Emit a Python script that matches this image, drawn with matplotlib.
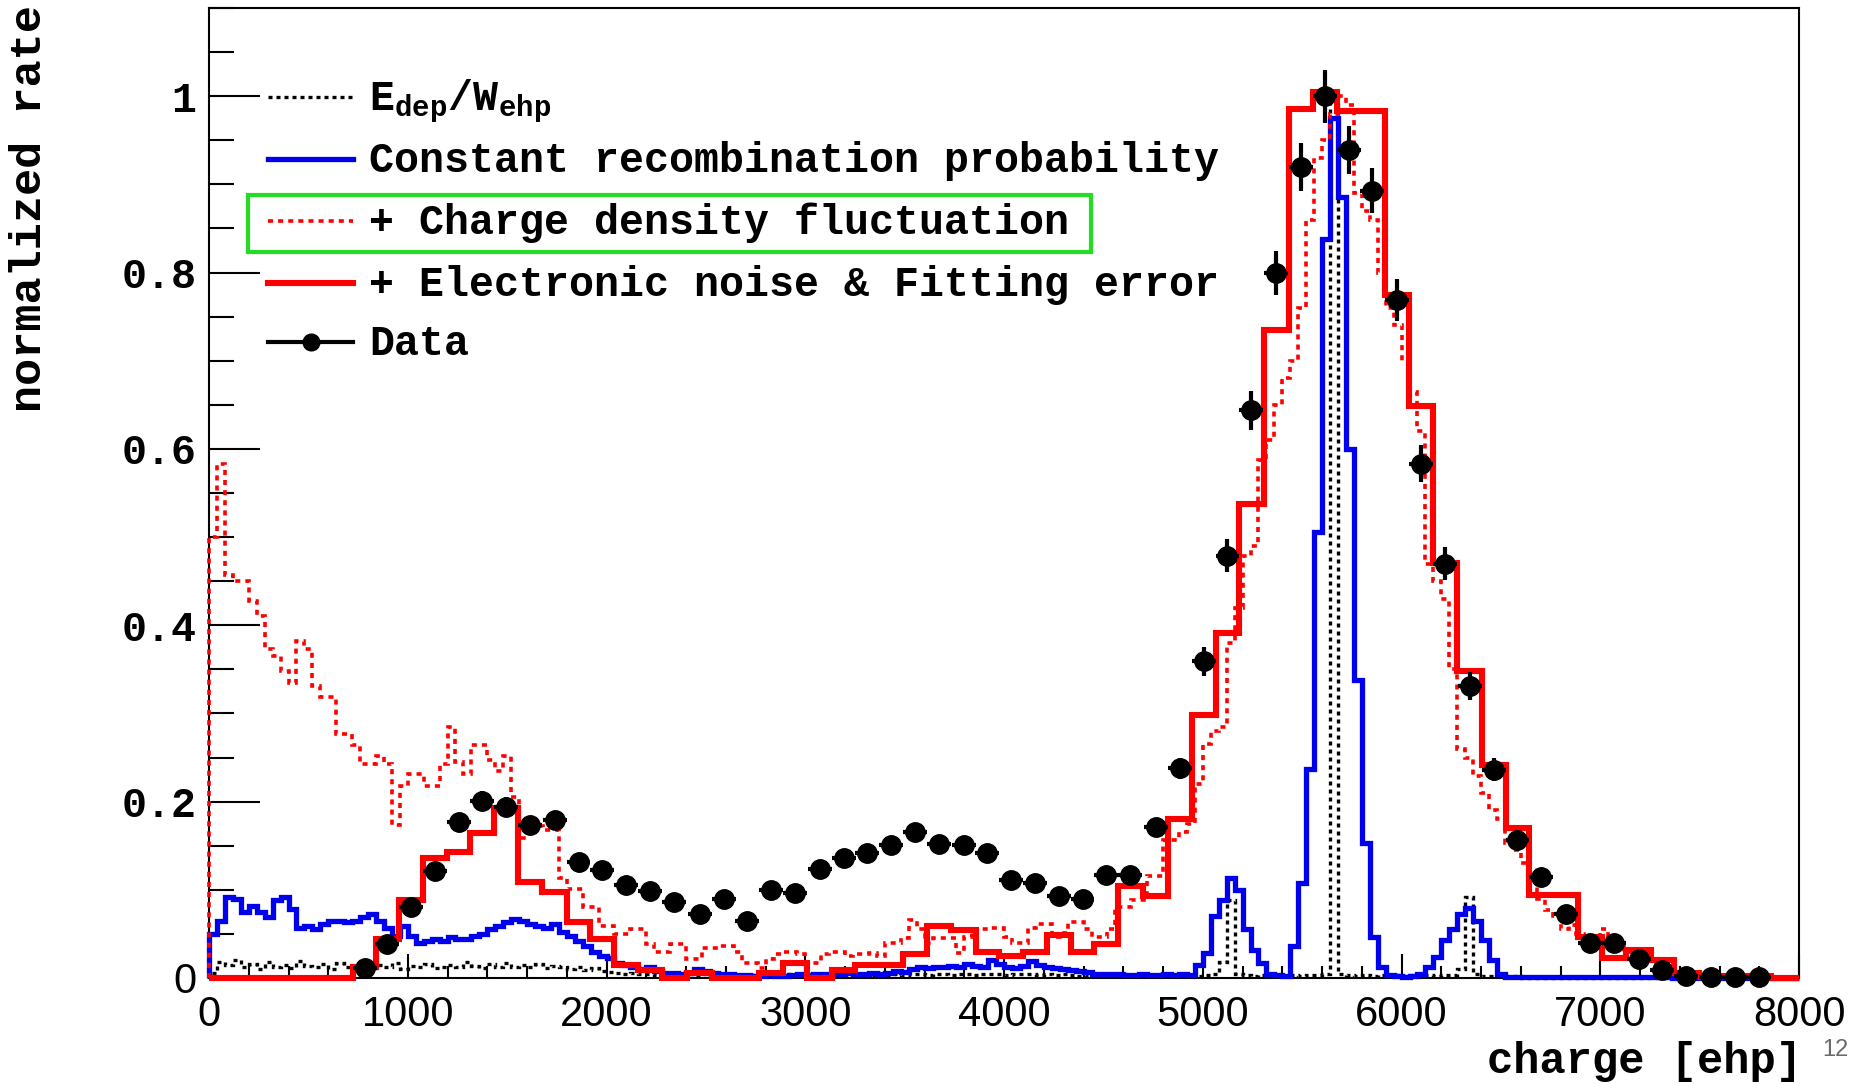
import matplotlib
matplotlib.use("Agg")
import matplotlib.pyplot as plt
import numpy as np
from matplotlib.patches import Rectangle

MONO = 'Liberation Mono'
SANS = 'Liberation Sans'

plt.rcParams['mathtext.fontset'] = 'custom'
plt.rcParams['mathtext.rm'] = 'Liberation Mono:bold'
plt.rcParams['mathtext.it'] = 'Liberation Mono:bold'
plt.rcParams['mathtext.bf'] = 'Liberation Mono:bold'

# measured data points (bin centres in ehp)
data_x = [783, 897, 1016, 1136, 1256, 1375, 1495, 1614, 1740, 1859,
          1979, 2099, 2218, 2338, 2469, 2589, 2708, 2828, 2948, 3073,
          3193, 3312, 3432, 3552, 3671, 3797, 3916, 4036, 4155, 4275,
          4395, 4514, 4634, 4765, 4885, 5004, 5124, 5244, 5369, 5495,
          5614, 5734, 5853, 5979, 6099, 6218, 6344, 6463, 6583, 6702,
          6828, 6948, 7067, 7193, 7312, 7432, 7557, 7677, 7797]
data_y = [0.011, 0.038, 0.081, 0.121, 0.177, 0.201, 0.194, 0.173, 0.179, 0.132,
          0.123, 0.105, 0.099, 0.086, 0.072, 0.090, 0.065, 0.100, 0.096, 0.124,
          0.136, 0.142, 0.151, 0.165, 0.152, 0.151, 0.142, 0.111, 0.108, 0.093,
          0.090, 0.117, 0.117, 0.171, 0.238, 0.359, 0.479, 0.644, 0.800, 0.920,
          1.000, 0.939, 0.893, 0.769, 0.583, 0.470, 0.331, 0.236, 0.157, 0.114,
          0.073, 0.040, 0.040, 0.022, 0.009, 0.002, 0.001, 0.001, 0.001]
data_yerr = [0.005, 0.006, 0.008, 0.009, 0.010, 0.011, 0.011, 0.010, 0.010, 0.009,
             0.009, 0.008, 0.008, 0.008, 0.007, 0.008, 0.007, 0.008, 0.008, 0.009,
             0.009, 0.009, 0.010, 0.010, 0.010, 0.010, 0.009, 0.008, 0.008, 0.008,
             0.008, 0.009, 0.009, 0.010, 0.012, 0.016, 0.019, 0.022, 0.025, 0.027,
             0.030, 0.027, 0.026, 0.024, 0.021, 0.019, 0.016, 0.013, 0.011, 0.009,
             0.007, 0.005, 0.005, 0.004, 0.003, 0.002, 0.001, 0.001, 0.001]
data_xerr = 60

# "+ Electronic noise & Fitting error", same bins as the data
noise_fit = [0.013, 0.044, 0.088, 0.136, 0.143, 0.164, 0.193, 0.109, 0.098, 0.064,
             0.044, 0.015, 0.009, 0.000, 0.006, 0.000, 0.000, 0.006, 0.017, 0.000,
             0.009, 0.015, 0.015, 0.027, 0.059, 0.054, 0.030, 0.025, 0.030, 0.049,
             0.030, 0.038, 0.104, 0.093, 0.180, 0.298, 0.391, 0.538, 0.735, 0.986,
             1.005, 0.983, 0.983, 0.775, 0.649, 0.471, 0.348, 0.242, 0.170, 0.094,
             0.094, 0.047, 0.023, 0.032, 0.020, 0.006, 0.002, 0.002, 0.002]

# fine histograms, 40 ehp bins from 0 to 8000
fine_width = 40
edep = [0.006, 0.018, 0.015, 0.020, 0.012, 0.016, 0.010, 0.018, 0.013, 0.015,
        0.011, 0.019, 0.014, 0.012, 0.016, 0.010, 0.017, 0.012, 0.014, 0.019,
        0.011, 0.015, 0.013, 0.017, 0.010, 0.014, 0.012, 0.016, 0.011, 0.013,
        0.015, 0.012, 0.018, 0.014, 0.011, 0.016, 0.013, 0.017, 0.012, 0.015,
        0.013, 0.016, 0.011, 0.014, 0.012, 0.010, 0.013, 0.009, 0.011, 0.008,
        0.007, 0.006, 0.005, 0.006, 0.004, 0.005, 0.003, 0.004, 0.003, 0.003,
        0.004, 0.003, 0.005, 0.003, 0.002, 0.004, 0.003, 0.002, 0.003, 0.004,
        0.003, 0.002, 0.003, 0.004, 0.002, 0.003, 0.003, 0.002, 0.004, 0.003,
        0.002, 0.003, 0.004, 0.003, 0.002, 0.003, 0.004, 0.003, 0.005, 0.004,
        0.003, 0.005, 0.004, 0.003, 0.004, 0.005, 0.003, 0.004, 0.005, 0.004,
        0.003, 0.004, 0.005, 0.004, 0.003, 0.004, 0.003, 0.004, 0.003, 0.002,
        0.003, 0.002, 0.003, 0.002, 0.003, 0.002, 0.003, 0.002, 0.002, 0.003,
        0.002, 0.003, 0.002, 0.003, 0.002, 0.003, 0.004, 0.018, 0.089, 0.004,
        0.003, 0.002, 0.003, 0.002, 0.003, 0.002, 0.003, 0.002, 0.003, 0.003,
        0.004, 1.000, 0.004, 0.003, 0.002, 0.003, 0.002, 0.003, 0.002, 0.003,
        0.002, 0.003, 0.002, 0.003, 0.002, 0.003, 0.003, 0.010, 0.092, 0.004,
        0.002, 0.002, 0.002, 0.002, 0.002, 0, 0, 0, 0, 0,
        0, 0, 0, 0, 0, 0, 0, 0, 0, 0,
        0, 0, 0, 0, 0, 0, 0, 0, 0, 0,
        0, 0, 0, 0, 0, 0, 0, 0, 0, 0]
const_recomb = [0.050, 0.065, 0.092, 0.090, 0.075, 0.082, 0.075, 0.069, 0.088, 0.092,
                0.078, 0.057, 0.059, 0.055, 0.061, 0.065, 0.065, 0.063, 0.065, 0.069,
                0.073, 0.065, 0.057, 0.048, 0.059, 0.048, 0.040, 0.042, 0.044, 0.042,
                0.046, 0.044, 0.044, 0.048, 0.050, 0.055, 0.059, 0.063, 0.067, 0.065,
                0.061, 0.059, 0.057, 0.061, 0.052, 0.048, 0.042, 0.036, 0.029, 0.025,
                0.023, 0.017, 0.015, 0.013, 0.010, 0.012, 0.008, 0.006, 0.006, 0.005,
                0.006, 0.010, 0.008, 0.006, 0.004, 0.004, 0.003, 0.003, 0.002, 0.002,
                0.003, 0.002, 0.002, 0.003, 0.004, 0.003, 0.004, 0.005, 0.004, 0.005,
                0.006, 0.004, 0.005, 0.006, 0.005, 0.006, 0.008, 0.007, 0.010, 0.012,
                0.011, 0.013, 0.012, 0.014, 0.013, 0.016, 0.014, 0.013, 0.020, 0.016,
                0.012, 0.011, 0.014, 0.019, 0.015, 0.012, 0.011, 0.010, 0.009, 0.008,
                0.007, 0.005, 0.004, 0.004, 0.005, 0.003, 0.003, 0.004, 0.003, 0.003,
                0.004, 0.003, 0.005, 0.003, 0.015, 0.028, 0.070, 0.089, 0.113, 0.100,
                0.056, 0.032, 0.017, 0.005, 0.003, 0.002, 0.036, 0.108, 0.237, 0.506,
                0.838, 0.975, 0.886, 0.600, 0.338, 0.153, 0.047, 0.013, 0.003, 0.002,
                0.001, 0.002, 0.005, 0.013, 0.024, 0.043, 0.055, 0.073, 0.079, 0.065,
                0.043, 0.020, 0.005, 0.001, 0.001, 0.001, 0.001, 0.001, 0.001, 0.001,
                0.001, 0.001, 0.001, 0.001, 0.001, 0.001, 0.001, 0.001, 0.001, 0.001,
                0.001, 0.001, 0.001, 0.001, 0, 0, 0, 0, 0, 0,
                0, 0, 0, 0, 0, 0, 0, 0, 0, 0]
density_fluct = [0.500, 0.583, 0.457, 0.450, 0.450, 0.428, 0.410, 0.373, 0.365, 0.348,
                 0.335, 0.382, 0.373, 0.331, 0.319, 0.319, 0.277, 0.277, 0.264, 0.243,
                 0.243, 0.252, 0.243, 0.174, 0.218, 0.231, 0.231, 0.218, 0.218, 0.243,
                 0.285, 0.245, 0.231, 0.264, 0.264, 0.247, 0.235, 0.252, 0.205, 0.159,
                 0.172, 0.172, 0.168, 0.168, 0.113, 0.101, 0.101, 0.080, 0.080, 0.059,
                 0.059, 0.050, 0.050, 0.055, 0.055, 0.038, 0.029, 0.029, 0.038, 0.038,
                 0.021, 0.021, 0.034, 0.034, 0.036, 0.036, 0.030, 0.017, 0.017, 0.011,
                 0.021, 0.027, 0.030, 0.030, 0.027, 0.017, 0.017, 0.027, 0.030, 0.030,
                 0.025, 0.027, 0.027, 0.028, 0.025, 0.040, 0.040, 0.045, 0.066, 0.055,
                 0.040, 0.045, 0.045, 0.045, 0.028, 0.047, 0.055, 0.055, 0.057, 0.057,
                 0.047, 0.040, 0.040, 0.057, 0.061, 0.061, 0.047, 0.051, 0.064, 0.064,
                 0.055, 0.047, 0.047, 0.055, 0.081, 0.081, 0.089, 0.089, 0.116, 0.116,
                 0.157, 0.157, 0.165, 0.175, 0.220, 0.265, 0.280, 0.285, 0.380, 0.420,
                 0.478, 0.490, 0.587, 0.610, 0.650, 0.680, 0.700, 0.760, 0.860, 0.930,
                 0.950, 0.980, 1.000, 0.990, 0.890, 0.870, 0.860, 0.800, 0.760, 0.740,
                 0.700, 0.665, 0.620, 0.470, 0.450, 0.430, 0.350, 0.260, 0.250, 0.229,
                 0.210, 0.190, 0.180, 0.153, 0.145, 0.130, 0.110, 0.090, 0.077, 0.070,
                 0.055, 0.060, 0.050, 0.045, 0.048, 0.055, 0.040, 0.035, 0.030, 0.025,
                 0.028, 0.020, 0.015, 0.010, 0.006, 0.004, 0, 0, 0, 0,
                 0, 0, 0, 0, 0, 0, 0, 0, 0, 0]

y_ticks = [0, 0.2, 0.4, 0.6, 0.8, 1.0]
y_tick_labels = ['0', '0.2', '0.4', '0.6', '0.8', '1']
x_ticks = [0, 1000, 2000, 3000, 4000, 5000, 6000, 7000, 8000]

fig = plt.figure(figsize=(18.63, 10.84), dpi=100)
ax = fig.add_axes([0.1122, 0.0978, 0.8535, 0.8948])

fine_edges = np.arange(0, 8000 + fine_width, fine_width)
ax.stairs(edep, fine_edges, color='black', lw=2.4, linestyle=(0, (1.2, 1.2)),
          zorder=2, clip_on=False)
ax.stairs(const_recomb, fine_edges, color='#0000ee', lw=3.8, zorder=3, clip_on=False)
ax.stairs(density_fluct, fine_edges, color='#ff0000', lw=2.6, linestyle=(0, (1.4, 1.4)),
          zorder=4, clip_on=False)

x = np.array(data_x, dtype=float)
mid = (x[:-1] + x[1:]) / 2
coarse_edges = np.concatenate([[0, x[0] - data_xerr], mid, [x[-1] + data_xerr, 8000]])
ax.stairs([0] + noise_fit + [0], coarse_edges, color='#ff0000', lw=4.4, zorder=5,
          clip_on=False)

ax.errorbar(data_x, data_y, yerr=data_yerr, xerr=data_xerr, fmt='o', color='black',
            ms=14, elinewidth=3, capsize=0, zorder=6, clip_on=False)

ax.set_xlim(0, 8000)
ax.set_ylim(0, 1.1)
ax.set_xticks(x_ticks)
ax.set_xticks(np.arange(0, 8001, 200), minor=True)
ax.set_yticks(y_ticks)
ax.set_yticks(np.arange(0, 1.101, 0.05), minor=True)
ax.set_xticklabels([str(t) for t in x_ticks], fontfamily=SANS, fontsize=30)
ax.set_yticklabels(y_tick_labels, fontfamily=MONO, fontweight='bold', fontsize=30)
ax.get_yticklabels()[0].set_fontfamily(SANS)
ax.get_yticklabels()[0].set_fontweight('normal')

ax.tick_params(direction='in', which='both', top=False, right=False, width=1.5)
ax.tick_params(axis='y', which='major', length=37, pad=9)
ax.tick_params(axis='y', which='minor', length=18)
ax.tick_params(axis='x', which='major', length=17, pad=12)
ax.tick_params(axis='x', which='minor', length=8.5)
for s in ax.spines.values():
    s.set_linewidth(1.5)

# legend drawn ROOT style, no frame
leg_x0, leg_x1, leg_tx = 0.0371, 0.0906, 0.1006
rows = [0.908, 0.844, 0.780, 0.7165, 0.6557]
labels = [r'$\mathrm{E_{dep}/W_{ehp}}$',
          'Constant recombination probability',
          '+ Charge density fluctuation',
          '+ Electronic noise & Fitting error',
          'Data']
styles = [dict(color='black', lw=2.4, linestyle=(0, (1.2, 1.2))),
          dict(color='#0000ee', lw=3.8),
          dict(color='#ff0000', lw=2.6, linestyle=(0, (1.4, 1.4))),
          dict(color='#ff0000', lw=4.4),
          dict(color='black', lw=3)]
for y, lab, st in zip(rows, labels, styles):
    ax.plot([leg_x0, leg_x1], [y, y], transform=ax.transAxes, clip_on=False, **st)
    ax.text(leg_tx, y - 0.0134, lab, transform=ax.transAxes, va='baseline', ha='left',
            fontfamily=MONO, fontweight='bold', fontsize=30)
ax.plot([(leg_x0 + leg_x1) / 2], [rows[4]], 'o', color='black', ms=12,
        transform=ax.transAxes, clip_on=False)

ax.add_patch(Rectangle((0.0245, 0.7485), 0.5302, 0.0588, transform=ax.transAxes,
                       fill=False, ec='#22dd22', lw=3, clip_on=False, zorder=7))

fig.text(30 / 1863, 1 - 5 / 1084, 'normalized rate', rotation=90, ha='center', va='top',
         fontfamily=MONO, fontweight='bold', fontsize=32.5)
fig.text(1802 / 1863, 1 - 1061 / 1084, 'charge [ehp]', ha='right', va='center',
         fontfamily=MONO, fontweight='bold', fontsize=31.5)
fig.text(1849 / 1863, 1 - 1050 / 1084, '12', ha='right', va='center',
         fontfamily=SANS, fontsize=17, color='#6b6b6b')

fig.savefig('out.png', dpi=100)
